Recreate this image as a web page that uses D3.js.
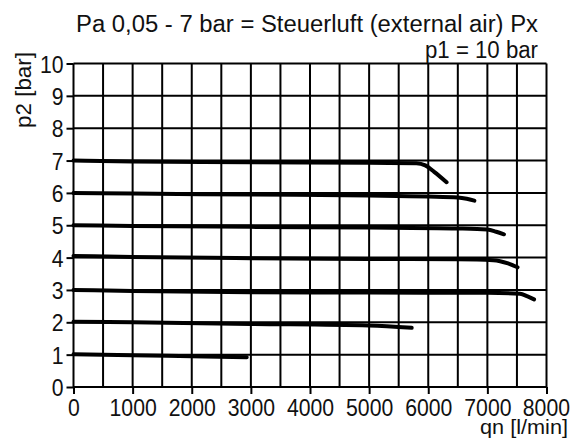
<!DOCTYPE html>
<meta charset="utf-8">
<style>
body { margin: 0; background: #fff; }
svg text { font-family: "Liberation Sans Narrow", "Arial Narrow", "Liberation Sans", sans-serif; fill: #111; }
.grid line { stroke: #000; stroke-width: 2; }
.curve { fill: none; stroke: #000; stroke-width: 4; stroke-linecap: round; }
</style>
<svg width="571" height="446"></svg>
<script src="https://d3js.org/d3.v7.min.js"></script>
<script>

// p2 [bar] over qn [l/min], one curve per set pressure
var curve7 = [[0, 7.0], [1000, 6.97], [3000, 6.95], [5000, 6.93], [5800, 6.92], [5950, 6.85], [6100, 6.65], [6310, 6.33]];
var curve6 = [[0, 6.0], [1000, 5.98], [3000, 5.95], [5000, 5.92], [6000, 5.89], [6500, 5.86], [6650, 5.82], [6780, 5.76]];
var curve5 = [[0, 5.0], [1000, 4.98], [3000, 4.95], [5000, 4.93], [6500, 4.9], [7000, 4.87], [7150, 4.8], [7280, 4.72]];
var curve4 = [[0, 4.05], [1000, 4.02], [3000, 3.98], [5000, 3.96], [6500, 3.95], [7100, 3.92], [7350, 3.82], [7510, 3.7]];
var curve3 = [[0, 3.0], [1000, 2.97], [3000, 2.93], [5000, 2.92], [7000, 2.91], [7550, 2.88], [7680, 2.8], [7790, 2.71]];
var curve2 = [[0, 2.02], [1000, 2.0], [3000, 1.95], [5000, 1.9], [5720, 1.83]];
var curve1 = [[0, 1.01], [1000, 0.98], [2000, 0.95], [2930, 0.92]];

var xTicks = [0, 1000, 2000, 3000, 4000, 5000, 6000, 7000, 8000];
var yTicks = [0, 1, 2, 3, 4, 5, 6, 7, 8, 9, 10];

var svg = d3.select("svg");

var x = d3.scaleLinear().domain([0, 8000]).range([73.5, 546.5]),
    y = d3.scaleLinear().domain([0, 10]).range([387, 63.5]);

// the original uses a condensed face; squeeze each label to its measured width
function squeeze(sel, perChar) {
  sel.attr("textLength", function() { return this.textContent.length * perChar; })
     .attr("lengthAdjust", "spacingAndGlyphs");
}

// grid: every 500 l/min and every bar
var grid = svg.append("g").attr("class", "grid");
grid.selectAll(".v")
    .data(d3.range(0, 8001, 500))
  .enter().append("line")
    .attr("x1", function(d) { return x(d); })
    .attr("x2", function(d) { return x(d); })
    .attr("y1", y(10))
    .attr("y2", y(0));
grid.selectAll(".h")
    .data(yTicks)
  .enter().append("line")
    .attr("y1", function(d) { return y(d); })
    .attr("y2", function(d) { return y(d); })
    .attr("x1", x(0))
    .attr("x2", x(8000));

var xAxis = svg.append("g")
    .attr("transform", "translate(0," + y(0) + ")")
    .call(d3.axisBottom(x).tickValues(xTicks).tickSize(7).tickPadding(5).tickFormat(d3.format("d")));
var yAxis = svg.append("g")
    .attr("transform", "translate(" + x(0) + ",0)")
    .call(d3.axisLeft(y).tickValues(yTicks).tickSize(7).tickPadding(3).tickFormat(d3.format("d")));

[xAxis, yAxis].forEach(function(a) {
  a.select(".domain").remove();
  a.selectAll(".tick line").attr("stroke", "#000").attr("stroke-width", 2);
  a.selectAll(".tick text").style("font-size", "24px").attr("fill", "#111").call(squeeze, 11.8);
});
yAxis.selectAll(".tick text").attr("dy", "0.36em");
// last label sits flush with the right edge
xAxis.selectAll(".tick text").filter(function(d) { return d === 8000; })
    .attr("text-anchor", "end").attr("x", 23);

var line = d3.line()
    .x(function(d) { return x(d[0]); })
    .y(function(d) { return y(d[1]); })
    .curve(d3.curveMonotoneX);

svg.selectAll(".curve")
    .data([curve7, curve6, curve5, curve4, curve3, curve2, curve1])
  .enter().append("path")
    .attr("class", "curve")
    .attr("d", line);

svg.append("text")
    .attr("x", 76)
    .attr("y", 31.5)
    .style("font-size", "23px")
    .attr("textLength", 462)
    .attr("lengthAdjust", "spacingAndGlyphs")
    .text("Pa 0,05 - 7 bar = Steuerluft (external air) Px");

svg.append("text")
    .attr("x", 425)
    .attr("y", 58)
    .style("font-size", "23px")
    .attr("textLength", 113)
    .attr("lengthAdjust", "spacingAndGlyphs")
    .text("p1 = 10 bar");

svg.append("text")
    .attr("x", 480)
    .attr("y", 434)
    .style("font-size", "20px")
    .attr("textLength", 88)
    .attr("lengthAdjust", "spacingAndGlyphs")
    .text("qn [l/min]");

svg.append("text")
    .attr("transform", "translate(31,128) rotate(-90)")
    .style("font-size", "22px")
    .attr("textLength", 76)
    .attr("lengthAdjust", "spacingAndGlyphs")
    .text("p2 [bar]");

</script>
